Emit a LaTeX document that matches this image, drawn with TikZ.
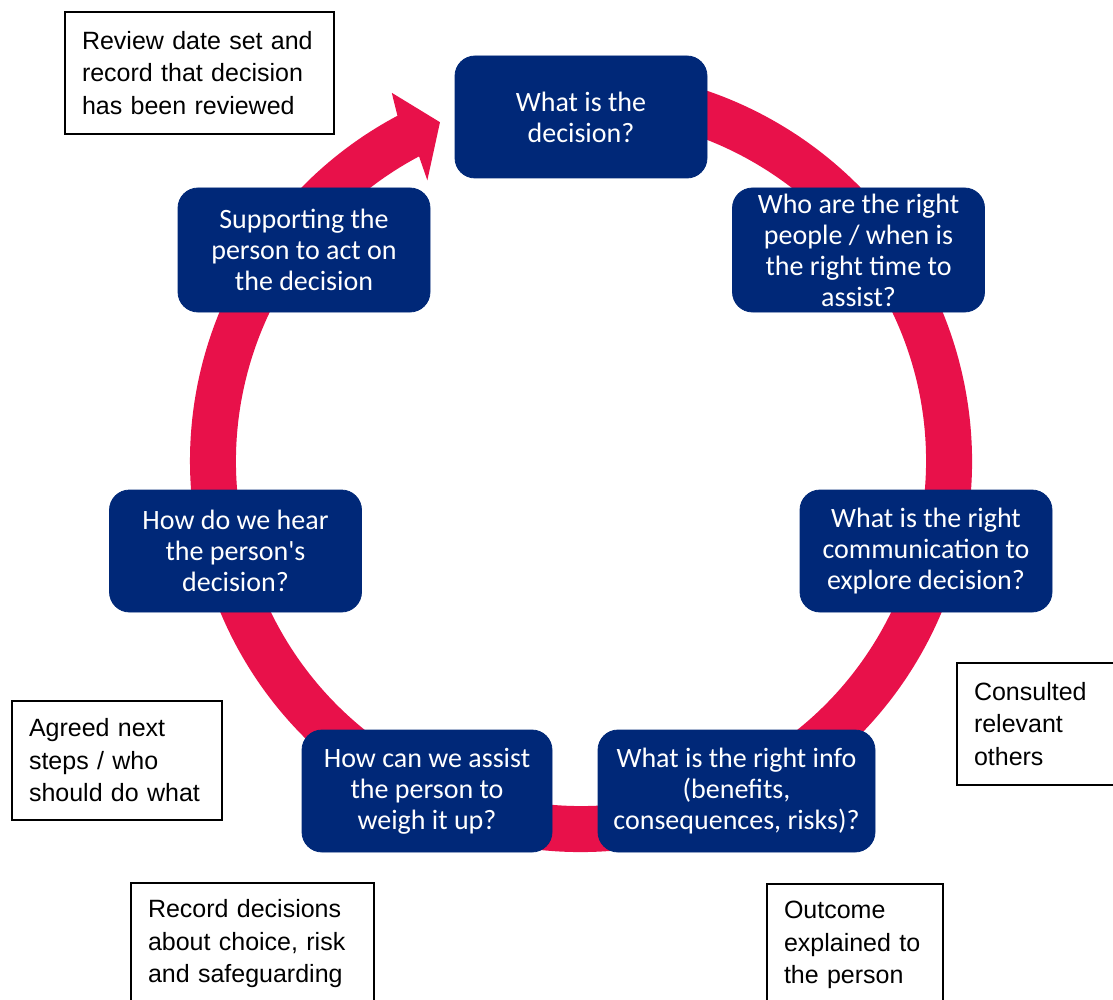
\documentclass[tikz,border=0pt]{standalone}
\usepackage{fontspec}
\newfontfamily\boxfont{Carlito}
\newfontfamily\notefont{Liberation Sans}
\usepackage{tikz}
\usetikzlibrary{positioning}
\definecolor{navy}{RGB}{0,40,120}
\definecolor{ringred}{RGB}{232,17,74}
\tikzset{
	question/.style={
		fill=navy, draw=navy, rounded corners=10pt,
		minimum width=126pt, minimum height=61pt,
		inner sep=2pt, text=white, align=center,
		font=\boxfont\fontsize{14pt}{15.5pt}\selectfont
	},
	note/.style={
		draw=black, line width=1.4pt, fill=white,
		minimum height=61pt, inner xsep=8.5pt,
		text=black, align=left,
		font=\notefont\fontsize{12.5pt}{16.25pt}\selectfont
	},
	ring/.style={fill=ringred}
}

\begin{document}
\begin{tikzpicture}[x=0.5pt,y=0.5pt]
				\useasboundingbox (0,0) rectangle (1113,-1000);
				\clip (0,0) rectangle (1113,-1000);
				% the cycle arrow
				\fill[ring, shift={(581,-461)}]
					(100:391) arc[start angle=100, end angle=-242, radius=391]
					-- (117.2:414) -- (112.6:367) -- (118.7:320) -- (118:345)
					arc[start angle=-242, end angle=100, radius=345] -- cycle;
				% questions
				\node[question] (decision) at (581,-117) {What is the\\decision?};
				\node[question, minimum height=62pt] (people) at (858.5,-250) {Who are the right\\people / when is\\the right time to\\assist?};
				\node[question] (communicate) at (926,-551) {What is the right\\communication to\\explore decision?};
				\node[question, minimum width=138.5pt] (info) at (736.5,-791) {What is the right info\\(benefits,\\consequences, risks)?};
				\node[question, minimum width=125pt] (weigh) at (427,-791) {How can we assist\\the person to\\weigh it up?};
				\node[question] (hear) at (235.5,-551) {How do we hear\\the person's\\decision?};
				\node[question, minimum height=62pt] (act) at (304,-250) {Supporting the\\person to act on\\the decision};
				% notes
				\node[note, text width=117.5pt] (review) at (199.5,-73) {Review date set and\\record that decision\\has been reviewed};
				\node[note, text width=88pt, minimum height=59.5pt] (agreed) at (117,-760.5) {Agreed next\\steps / who\\should do what};
				\node[note, text width=71pt] (consulted) at (1045,-724) {Consulted\\relevant\\others};
				\node[note, text width=104.5pt] (recorded) at (252.5,-944) {Record decisions\\about choice, risk\\and safeguarding};
				\node[note, text width=71pt] (outcome) at (855,-945) {Outcome\\explained to\\the person};
\end{tikzpicture}
\end{document}
